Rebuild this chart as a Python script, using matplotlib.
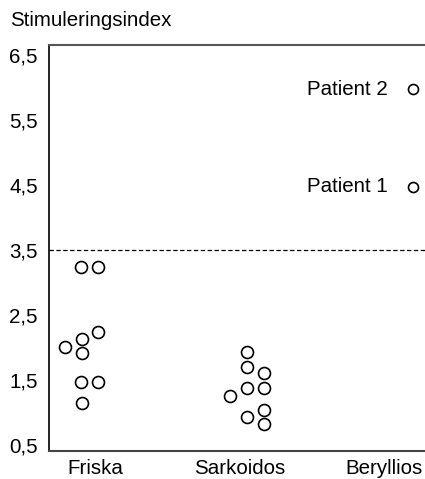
import matplotlib
matplotlib.use("Agg")
import matplotlib.pyplot as plt

plt.rcParams['font.family'] = ['Liberation Sans', 'DejaVu Sans']

categories = ["Friska", "Sarkoidos", "Beryllios"]
tick_values = [0.5, 1.5, 2.5, 3.5, 4.5, 5.5, 6.5]
tick_labels = ["0,5", "1,5", "2,5", "3,5", "4,5", "5,5", "6,5"]
threshold = 3.5

friska_values = [3.24, 3.24, 2.24, 2.13, 2.01, 1.92, 1.47, 1.47, 1.15]
friska_jitter = [-0.10, 0.02, 0.02, -0.09, -0.21, -0.09, -0.10, 0.02, -0.09]

sarkoidos_values = [1.93, 1.70, 1.61, 1.38, 1.38, 1.26, 0.94, 1.04, 0.83]
sarkoidos_jitter = [0.055, 0.055, 0.173, 0.055, 0.173, -0.062, 0.055, 0.173, 0.173]

beryllios_values = [5.97, 4.47]
beryllios_jitter = [0.2, 0.2]
beryllios_names = ["Patient 2", "Patient 1"]

fig = plt.figure(figsize=(4.25, 4.79), dpi=100)
ax = fig.add_axes([49/425, 28/479, 1 - 49/425, (451-45)/479])

fs = 14.8
mk = dict(marker='o', linestyle='none', markerfacecolor='white',
          markeredgecolor='black', markeredgewidth=1.2)

ax.plot([1 + j for j in friska_jitter], friska_values, markersize=8.6, **mk)
ax.plot([2 + j for j in sarkoidos_jitter], sarkoidos_values, markersize=8.6, **mk)
ax.plot([3 + j for j in beryllios_jitter], beryllios_values, markersize=7.2, **mk)

for j, v, name in zip(beryllios_jitter, beryllios_values, beryllios_names):
    ax.annotate(name, (3 + j, v), xytext=(-18, 0), textcoords='offset points',
                ha='right', va='center', fontsize=fs)

ax.axhline(threshold, color='black', linewidth=0.9, linestyle=(0, (3.5, 2)))

ax.set_xlim(0.682, 3.284)
ax.set_ylim(0.414, 6.647)
ax.set_xticks([1, 2, 3])
ax.set_xticklabels(categories, fontsize=fs)
ax.set_yticks(tick_values)
ax.set_yticklabels(tick_labels, fontsize=fs)
ax.tick_params(axis='both', length=0)
ax.tick_params(axis='y', pad=8)
ax.tick_params(axis='x', pad=6)

ax.spines['right'].set_visible(False)
ax.spines['left'].set_color('black')
ax.spines['left'].set_linewidth(1.2)
ax.spines['top'].set_color('#555555')
ax.spines['top'].set_linewidth(1.5)
ax.spines['bottom'].set_color('#444444')
ax.spines['bottom'].set_linewidth(1.5)

fig.text(10/425, 1 - 21/479, "Stimuleringsindex", fontsize=fs, ha='left', va='center')

fig.savefig("out.png", dpi=100)
